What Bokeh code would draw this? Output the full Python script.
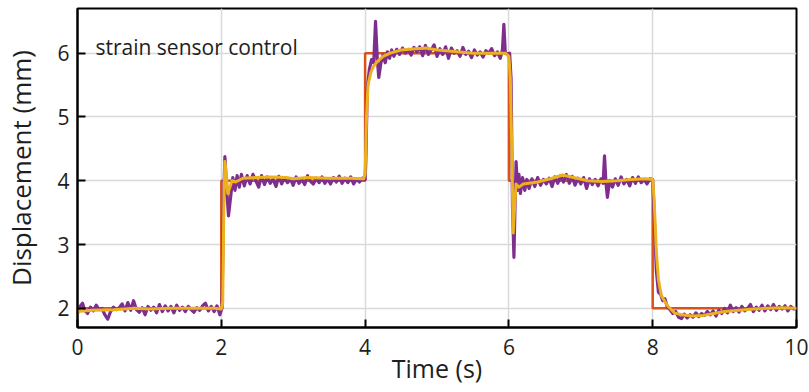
from bokeh.plotting import figure
from bokeh.models import Range1d, FixedTicker, Label
from bokeh.embed import file_html
from bokeh.resources import INLINE

# ---------------- data ----------------
ref_t = [0, 2, 2, 4, 4, 6, 6, 8, 8, 10]
ref_y = [2, 2, 4, 4, 6, 6, 4, 4, 2, 2]

meas_t = [
    0.00, 0.03, 0.07, 0.10, 0.14, 0.18, 0.22, 0.26, 0.30, 0.34, 0.38, 0.42, 0.46, 0.50,
    0.54, 0.58, 0.62, 0.66, 0.70, 0.74, 0.78, 0.82, 0.86, 0.90, 0.94, 0.98, 1.02, 1.06,
    1.10, 1.14, 1.18, 1.22, 1.26, 1.30, 1.34, 1.38, 1.42, 1.46, 1.50, 1.54, 1.58, 1.62,
    1.66, 1.70, 1.74, 1.78, 1.82, 1.86, 1.90, 1.94, 1.98, 2.01,
    2.03, 2.05, 2.07, 2.10, 2.13, 2.16, 2.19, 2.22, 2.25, 2.28, 2.32, 2.36, 2.40, 2.44,
    2.48, 2.52, 2.56, 2.60, 2.64, 2.68, 2.72, 2.76, 2.80, 2.84, 2.88, 2.92, 2.96, 3.00,
    3.04, 3.08, 3.12, 3.16, 3.20, 3.24, 3.28, 3.32, 3.36, 3.40, 3.44, 3.48, 3.52, 3.56,
    3.60, 3.64, 3.68, 3.72, 3.76, 3.80, 3.84, 3.88, 3.92, 3.96, 4.00,
    4.01, 4.03, 4.06, 4.09, 4.12, 4.145, 4.17, 4.19, 4.22, 4.25, 4.28, 4.31, 4.34, 4.37,
    4.40, 4.44, 4.48, 4.52, 4.56, 4.60, 4.64, 4.68, 4.72, 4.76, 4.80, 4.84, 4.88, 4.92,
    4.96, 5.00, 5.04, 5.08, 5.12, 5.16, 5.20, 5.24, 5.28, 5.32, 5.36, 5.40, 5.44, 5.48,
    5.52, 5.56, 5.60, 5.64, 5.68, 5.72, 5.76, 5.80, 5.84, 5.88, 5.91, 5.93, 5.95, 5.98,
    6.01, 6.03, 6.05, 6.07, 6.085, 6.10, 6.12, 6.14, 6.16, 6.19, 6.22, 6.25, 6.28, 6.32,
    6.36, 6.40, 6.44, 6.48, 6.52, 6.56, 6.60, 6.64, 6.68, 6.72, 6.76, 6.80, 6.84, 6.88,
    6.92, 6.96, 7.00, 7.04, 7.08, 7.12, 7.16, 7.20, 7.24, 7.28, 7.31, 7.33, 7.35, 7.37,
    7.40, 7.44, 7.48, 7.52, 7.56, 7.60, 7.64, 7.68, 7.72, 7.76, 7.80, 7.84, 7.88, 7.92,
    7.96, 8.00,
    8.02, 8.05, 8.08, 8.11, 8.14, 8.17, 8.20, 8.24, 8.28, 8.32, 8.36, 8.40, 8.44, 8.48,
    8.52, 8.56, 8.60, 8.64, 8.68, 8.72, 8.76, 8.80, 8.84, 8.88, 8.92, 8.96, 9.00, 9.04,
    9.08, 9.12, 9.16, 9.20, 9.24, 9.28, 9.32, 9.36, 9.40, 9.44, 9.48, 9.52, 9.56, 9.60,
    9.64, 9.68, 9.72, 9.76, 9.80, 9.84, 9.88, 9.92, 9.96, 10.00,
]
meas_y = [
    1.92, 2.02, 2.08, 1.97, 1.92, 2.02, 1.96, 2.05, 1.98, 2.00, 1.90, 1.83, 1.95, 2.02,
    1.98, 2.01, 2.07, 1.96, 2.09, 1.97, 2.12, 1.98, 1.94, 2.01, 1.90, 2.03, 1.97, 2.02,
    1.93, 2.06, 1.95, 2.04, 1.96, 2.03, 1.93, 2.05, 1.97, 2.02, 1.95, 2.03, 1.98, 1.94,
    2.01, 1.97, 2.04, 2.08, 1.96, 2.03, 1.95, 2.04, 1.90, 2.00,
    3.60, 4.38, 3.95, 3.45, 3.75, 4.05, 3.85, 4.08, 3.90, 4.10, 3.92, 4.08, 3.95, 4.10,
    4.00, 3.90, 4.08, 3.94, 4.06, 3.96, 4.03, 3.91, 4.07, 3.95, 4.05, 3.97, 4.03, 3.93,
    4.06, 3.96, 4.02, 3.94, 4.08, 3.99, 3.95, 4.04, 3.97, 4.06, 3.96, 4.03, 3.95, 4.05,
    3.98, 4.07, 3.96, 4.04, 3.97, 4.06, 3.95, 4.03, 3.98, 4.04, 4.02,
    4.30, 5.45, 5.75, 5.90, 5.85, 6.50, 5.90, 5.62, 5.85, 5.97, 5.85, 6.02, 5.92, 6.05,
    5.95, 6.06, 5.98, 6.08, 6.00, 6.06, 5.97, 6.09, 6.02, 6.10, 5.96, 6.12, 5.98, 6.05,
    6.13, 5.95, 6.07, 5.98, 6.10, 5.92, 6.08, 6.00, 6.04, 5.95, 6.09, 5.98, 6.03, 5.93,
    6.05, 5.97, 6.02, 5.94, 6.04, 6.00, 6.07, 5.96, 6.02, 5.92, 6.05, 6.45, 6.00, 5.98,
    6.00, 5.60, 3.60, 2.80, 3.60, 4.30, 3.85, 4.10, 3.80, 4.05, 3.85, 4.02, 3.88, 4.03,
    3.91, 4.05, 3.93, 4.02, 3.95, 4.04, 3.91, 4.06, 3.96, 4.08, 3.98, 4.10, 3.96, 4.07,
    3.93, 4.04, 3.95, 4.05, 3.88, 4.03, 3.94, 4.02, 3.92, 4.03, 3.96, 4.39, 3.96, 3.74,
    4.00, 3.90, 4.03, 3.93, 4.06, 3.95, 4.02, 3.92, 4.05, 3.96, 4.06, 3.97, 4.02, 3.95,
    4.03, 4.02,
    3.50, 2.60, 2.25, 2.22, 2.12, 2.15, 2.03, 1.98, 1.92, 1.95, 1.86, 1.84, 1.91, 1.85,
    1.90, 1.86, 1.93, 1.87, 1.92, 1.89, 1.95, 1.90, 1.96, 1.88, 1.97, 1.92, 2.00, 1.93,
    2.05, 1.95, 2.01, 1.94, 2.03, 1.96, 2.00, 2.06, 1.95, 2.02, 1.97, 2.05, 1.96, 2.04,
    1.98, 2.06, 1.97, 2.03, 1.99, 2.04, 1.96, 2.03, 1.99, 2.00,
]

filt_t = [
    0.0, 0.2, 0.5, 0.8, 1.0, 1.3, 1.6, 1.9, 2.0, 2.02, 2.035, 2.05, 2.07, 2.09, 2.12,
    2.15, 2.2, 2.3, 2.5, 2.7, 2.9, 3.0, 3.2, 3.5, 3.8, 3.98, 4.0, 4.02, 4.04, 4.08,
    4.12, 4.18, 4.25, 4.35, 4.5, 4.7, 4.85, 5.0, 5.2, 5.5, 5.8, 5.95, 6.0, 6.02, 6.04,
    6.06, 6.08, 6.1, 6.14, 6.2, 6.4, 6.6, 6.75, 6.9, 7.1, 7.3, 7.5, 7.7, 7.9, 8.0,
    8.02, 8.05, 8.08, 8.12, 8.2, 8.3, 8.4, 8.55, 8.7, 8.85, 9.0, 9.2, 9.4, 9.6, 9.8, 10.0,
]
filt_y = [
    1.95, 1.97, 1.98, 2.00, 1.99, 2.00, 2.00, 2.00, 1.99, 2.10, 3.60, 4.30, 4.10, 3.80, 3.90,
    4.00, 3.98, 4.04, 4.05, 4.06, 4.05, 4.03, 4.05, 4.04, 4.04, 4.03, 4.10, 5.00, 5.50, 5.70,
    5.80, 5.88, 5.95, 6.00, 6.05, 6.07, 6.08, 6.05, 6.03, 6.00, 6.00, 6.00, 5.95, 5.60, 4.50,
    3.18, 3.60, 3.95, 3.90, 3.95, 3.98, 4.04, 4.09, 4.05, 4.00, 3.99, 4.00, 4.02, 4.03, 4.02,
    3.70, 2.90, 2.45, 2.20, 2.05, 1.93, 1.90, 1.88, 1.89, 1.92, 1.95, 1.97, 1.99, 2.00, 2.01, 2.00,
]

x_ticks = [0, 2, 4, 6, 8, 10]
y_ticks = [2, 3, 4, 5, 6]
annotation = "strain sensor control"

FONT = "Open Sans"
TXT = "#1e1e1e"

p = figure(width=809, height=392, output_backend="svg", toolbar_location=None,
           x_range=Range1d(0, 10), y_range=Range1d(1.7, 6.7),
           min_border_left=77, min_border_right=13, min_border_top=8, min_border_bottom=65)

p.line(ref_t, ref_y, line_color="#D95319", line_width=2.5)
p.line(meas_t, meas_y, line_color="#7E2F8E", line_width=3.2, line_join="round")
p.line(filt_t, filt_y, line_color="#EDB120", line_width=3, line_join="round")

p.xaxis.ticker = FixedTicker(ticks=x_ticks)
p.yaxis.ticker = FixedTicker(ticks=y_ticks)
p.xaxis.axis_label = "Time (s)"
p.yaxis.axis_label = "Displacement (mm)"

for ax in (p.xaxis, p.yaxis):
    ax.axis_line_color = "black"
    ax.axis_line_width = 2
    ax.major_tick_in = 8
    ax.major_tick_out = 0
    ax.major_tick_line_width = 2
    ax.major_tick_line_color = "black"
    ax.minor_tick_line_color = None
    ax.major_label_text_font = FONT
    ax.major_label_text_font_size = "21px"
    ax.major_label_text_color = TXT
    ax.axis_label_text_font = FONT
    ax.axis_label_text_font_size = "26px"
    ax.axis_label_text_font_style = "normal"
    ax.axis_label_text_color = TXT

p.xaxis.axis_label_text_font_size = "25px"
p.xaxis.major_label_standoff = 11
p.yaxis.major_label_standoff = 8
p.xaxis.axis_label_standoff = -7
p.yaxis.axis_label_standoff = 15

p.xgrid.ticker = FixedTicker(ticks=x_ticks)
p.ygrid.ticker = FixedTicker(ticks=y_ticks)
p.grid.grid_line_color = "#d9d9d9"
p.grid.grid_line_width = 1.5

p.outline_line_color = "black"
p.outline_line_width = 2
p.outline_line_alpha = 1
p.background_fill_color = "white"
p.border_fill_color = "white"

p.add_layout(Label(x=0.25, y=6.1, text=annotation, text_font=FONT,
                   text_font_size="21px", text_color=TXT,
                   text_baseline="alphabetic"))

open("out.html", "w").write(file_html(p, INLINE))
